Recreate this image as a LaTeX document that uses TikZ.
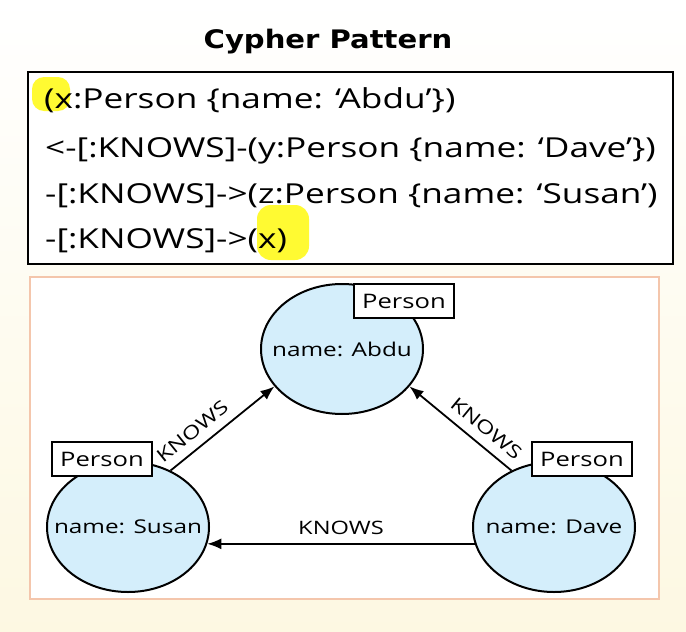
\documentclass[tikz,border=0pt]{standalone}
\usepackage{fontspec}
\setmainfont{Open Sans}
\newfontfamily\bodyf[FakeStretch=1.28]{Open Sans}
\newfontfamily\titlef[FakeStretch=1.14]{DejaVu Sans}
\usetikzlibrary{arrows.meta,shapes.geometric}
\definecolor{nodeblue}{RGB}{212,238,251}
\definecolor{hilite}{RGB}{255,250,50}
\definecolor{cream}{RGB}{253,248,226}
\definecolor{boxedge}{RGB}{244,198,172}
\begin{document}
\begin{tikzpicture}[x=1pt,y=-1pt,
  person/.style={draw=black, line width=1.5pt, fill=white, minimum width=100pt, minimum height=34pt, inner sep=0pt, font=\bodyf\fontsize{20}{24}\selectfont},
  ent/.style={ellipse, draw=black, line width=2pt, fill=nodeblue, minimum width=162pt, minimum height=130pt, inner sep=0pt, font=\bodyf\fontsize{19}{23}\selectfont},
  rel/.style={-{Latex[length=14pt,width=11pt]}, line width=1.8pt},
  rlabel/.style={font=\bodyf\fontsize{18.5}{22}\selectfont, inner sep=0pt},
  code/.style={anchor=base west, inner sep=0pt, font=\bodyf\fontsize{27.5}{32}\selectfont},
]
\useasboundingbox (0,0) rectangle (686,632);
\shade[top color=white, middle color=white, bottom color=cream] (0,0) rectangle (686,632);

% title
\node[anchor=base, inner sep=0pt, font=\titlef\bfseries\fontsize{25.5}{30}\selectfont] (title) at (328,48) {Cypher Pattern};

% cypher box
\draw[line width=1.7pt, fill=white] (28,72) rectangle (673,264);
\fill[hilite, rounded corners=12pt] (32,77) rectangle (70,111);
\fill[hilite, rounded corners=14pt] (257,205) rectangle (309,260);
\node[code] (l1) at (44,108) {(x:Person \{name: ‘Abdu’\})};
\node[code] (l2) at (45,157) {<-[:KNOWS]-(y:Person \{name: ‘Dave’\})};
\node[code] (l3) at (45,203) {-[:KNOWS]->(z:Person \{name: ‘Susan’)};
\node[code] (l4) at (45,248) {-[:KNOWS]->(x)};

% graph box
\draw[line width=1.5pt, draw=boxedge, fill=white] (30,277) rectangle (659,599);

\node[ent] (abdu) at (342,349) {\makebox[0pt]{name: Abdu}};
\node[ent] (susan) at (128,527) {\makebox[0pt]{name: Susan}};
\node[ent] (dave) at (554,527) {\makebox[0pt]{name: Dave}};

\node[person] (pa) at (404,301) {Person};
\node[person] (ps) at (102,459) {Person};
\node[person] (pd) at (582,459) {Person};

\draw[rel] (susan.53) -- node[rlabel, sloped, above=9pt, pos=0.31] (k1) {KNOWS} (abdu.209);
\draw[rel] (dave.127) -- node[rlabel, sloped, above=9pt, pos=0.35] (k2) {KNOWS} (abdu.331);
\draw[rel] (dave.192) -- node[rlabel, above=8pt, pos=0.5] (k3) {KNOWS} (susan.348);
\end{tikzpicture}
\end{document}
